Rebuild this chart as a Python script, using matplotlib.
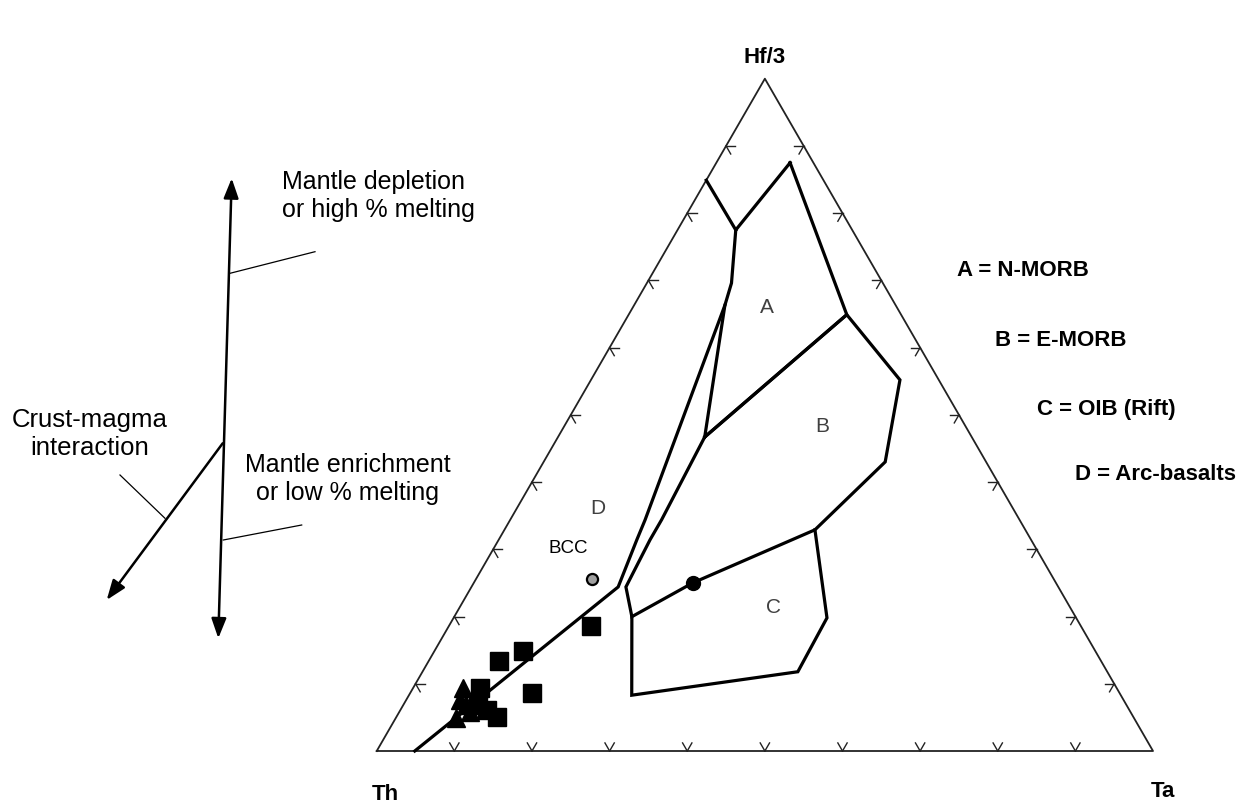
import numpy as np
import matplotlib
matplotlib.use("Agg")
import matplotlib.pyplot as plt
from matplotlib.patches import FancyArrowPatch

plt.rcParams['font.family'] = ['Liberation Sans', 'DejaVu Sans']

# All compositions are (Th, Hf/3, Ta) in percent
apex_labels = ["Th", "Hf/3", "Ta"]

d_top = [(15.1, 84.9, 0.0), (15.0, 77.5, 7.5)]
field_a = [(3.0, 87.5, 9.5), (15.0, 77.5, 7.5), (19.5, 69.6, 10.9), (22.0, 66.3, 11.7),
           (34.4, 46.7, 18.9), (7.0, 64.9, 28.1), (3.0, 87.5, 9.5)]
field_b = [(34.4, 46.7, 18.9), (7.0, 64.9, 28.1), (5.0, 55.2, 39.8), (13.0, 43.0, 44.0),
           (27.1, 32.9, 40.0), (46.8, 25.0, 28.2), (57.2, 20.0, 22.9), (55.7, 24.4, 19.9),
           (49.1, 31.4, 19.5), (46.1, 34.4, 19.5), (34.4, 46.7, 18.9)]
field_c = [(27.1, 32.9, 40.0), (32.1, 19.8, 48.1), (39.9, 11.8, 48.4), (63.0, 8.3, 28.7),
           (57.2, 20.0, 22.9)]
d_boundary = [(95.1, 0.0, 4.9), (56.7, 24.4, 18.9), (50.8, 31.4, 17.8), (48.3, 34.4, 17.4),
              (22.0, 66.3, 11.7)]

field_names = ["A", "B", "C", "D"]
field_label_pos = [(16.8, 65.9, 17.3), (18.5, 48.2, 33.3), (38.3, 21.3, 40.4), (53.4, 36.1, 10.4)]
legend_lines = ["A = N-MORB", "B = E-MORB", "C = OIB (Rift)", "D = Arc-basalts"]

samples_sq = [(63.1, 18.6, 18.3), (77.5, 13.4, 9.1), (73.7, 14.8, 11.5), (75.7, 8.6, 15.7),
              (82.0, 5.1, 12.9), (82.0, 9.4, 8.6), (83.5, 6.8, 9.6), (82.7, 6.1, 11.2)]
samples_tri = [(84.2, 9.4, 6.4), (85.5, 7.6, 6.9), (85.1, 6.8, 8.1), (87.3, 4.9, 7.8),
               (85.1, 5.8, 9.1)]
dot_point = [(46.8, 25.0, 28.2)]
bcc_point = [(59.5, 25.6, 14.9)]

H = np.sqrt(3) / 2


def to_xy(points):
    p = np.asarray(points, dtype=float)
    p = p / p.sum(axis=1, keepdims=True)
    return p[:, 2] + 0.5 * p[:, 1], H * p[:, 1]


fig = plt.figure(figsize=(12.53, 8.10), dpi=100)
ax = fig.add_axes([0, 0, 1, 1])
ax.set_xlim(-0.4853, 1.1288)
ax.set_ylim(-0.0760, 0.9674)
ax.axis('off')

# triangle frame
ax.plot([0, 1, 0.5, 0], [0, 0, H, 0], color='#222222', lw=1.3, zorder=2)

# chevron ticks every 10 %, drawn along the two other grid directions
tl = 0.012
tick_kw = dict(color='#222222', lw=1.0, zorder=2)
for k in range(1, 10):
    f = k / 10
    edges = [((f, 0.0), [(0.5, H), (-0.5, H)]),
             ((0.5 * f, H * f), [(1.0, 0.0), (0.5, -H)]),
             ((1 - 0.5 * f, H * f), [(-1.0, 0.0), (-0.5, -H)])]
    for (px, py), dirs in edges:
        for dx, dy in dirs:
            ax.plot([px, px + tl * dx], [py, py + tl * dy], **tick_kw)

# field boundaries
for line in [d_top, field_a, field_b, field_c, d_boundary]:
    x, y = to_xy(line)
    ax.plot(x, y, color='black', lw=2.3, solid_joinstyle='miter', zorder=3)

for name, pos in zip(field_names, field_label_pos):
    x, y = to_xy([pos])
    ax.text(x[0], y[0], name, fontsize=15, color='#404040', ha='center', va='center')

# samples
x, y = to_xy(samples_sq)
ax.plot(x, y, 's', color='black', ms=13, zorder=5)
x, y = to_xy(samples_tri)
ax.plot(x, y, '^', color='black', ms=13, zorder=5)
x, y = to_xy(dot_point)
ax.plot(x, y, 'o', color='black', ms=10, zorder=5)
x, y = to_xy(bcc_point)
ax.plot(x, y, 'o', mfc='#a0a0a0', mec='black', mew=1.6, ms=8, zorder=5)
ax.annotate("BCC", (x[0], y[0]), xytext=(-17, 22), textcoords='offset points',
            fontsize=13.5, ha='center', va='center')

# apex labels
vx, vy = to_xy([(100, 0, 0), (0, 100, 0), (0, 0, 100)])
offsets = [(6, -31), (0, 15), (7, -29)]
for lab, px, py, off in zip(apex_labels, vx, vy, offsets):
    ax.annotate(lab, (px, py), xytext=off, textcoords='offset points',
                fontsize=16, fontweight='bold', ha='center', va='center')

# overlay in pixel units for the side notes
ov = fig.add_axes([0, 0, 1, 1])
ov.set_xlim(0, 1253)
ov.set_ylim(810, 0)
ov.axis('off')
ov.patch.set_alpha(0)

legend_xy = [(957, 271), (995, 340), (1037, 409), (1075, 475)]
for txt, (lx, ly) in zip(legend_lines, legend_xy):
    ov.text(lx, ly, txt, fontsize=16, fontweight='bold', ha='left', va='center')

arr_kw = dict(mutation_scale=10, color='black', lw=1.8, shrinkA=0, shrinkB=0)
ov.add_patch(FancyArrowPatch((231.7, 178.3), (218.3, 638.3),
                             arrowstyle='<|-|>,head_length=1.2,head_width=0.45', **arr_kw))
ov.add_patch(FancyArrowPatch((222.7, 443.3), (106.7, 600.0),
                             arrowstyle='-|>,head_length=1.2,head_width=0.45', **arr_kw))

leaders = [((230, 273.3), (315, 251.7)), ((120, 475), (165, 518.3)),
           ((223.3, 540), (301.7, 525))]
for (x0, y0), (x1, y1) in leaders:
    ov.plot([x0, x1], [y0, y1], color='black', lw=0.9)

ov.text(282, 196, "Mantle depletion\nor high % melting", fontsize=18, ha='left',
        va='center', linespacing=1.25)
ov.text(90, 434, "Crust-magma\ninteraction", fontsize=18.5, ha='center', va='center',
        multialignment='center', linespacing=1.2)
ov.text(348, 479, "Mantle enrichment\nor low % melting", fontsize=18, ha='center',
        va='center', multialignment='center', linespacing=1.25)

fig.savefig("out.png", dpi=100, facecolor='white')
